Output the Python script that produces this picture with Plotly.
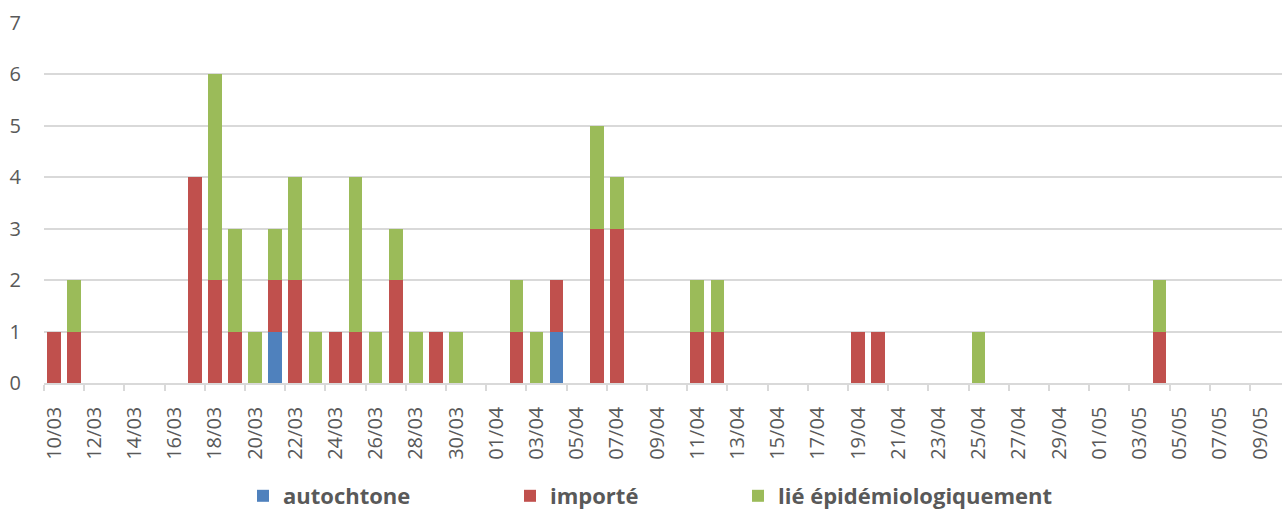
import plotly.graph_objects as go
import pandas as pd

dates = list(pd.date_range("2020-03-10", periods=62, freq="D").strftime("%d/%m"))

autochtone = [0,0,0,0,0,0,0,0,0,0,
              0,1,0,0,0,0,0,0,0,0,
              0,0,0,0,0,1,0,0,0,0,
              0,0,0,0,0,0,0,0,0,0,
              0,0,0,0,0,0,0,0,0,0,
              0,0,0,0,0,0,0,0,0,0,
              0,0]
importe = [1,1,0,0,0,0,0,4,2,1,
           0,1,2,0,1,1,0,2,0,1,
           0,0,0,1,0,1,0,3,3,0,
           0,0,1,1,0,0,0,0,0,0,
           1,1,0,0,0,0,0,0,0,0,
           0,0,0,0,0,1,0,0,0,0,
           0,0]
lie = [0,1,0,0,0,0,0,0,4,2,
       1,1,2,1,0,3,1,1,1,0,
       1,0,0,1,1,0,0,2,1,0,
       0,0,1,1,0,0,0,0,0,0,
       0,0,0,0,0,0,1,0,0,0,
       0,0,0,0,0,1,0,0,0,0,
       0,0]

series_names = ["autochtone", "importé", "lié épidémiologiquement"]
series_colors = ["#4F81BD", "#C0504D", "#9BBB59"]
y_ticks = [0, 1, 2, 3, 4, 5, 6, 7]

x = list(range(len(dates)))
label_idx = x[::2]
label_text = [dates[i] for i in label_idx]
boundary_ticks = [i - 0.5 for i in label_idx]

W, H = 1282, 511
L, R, T, B = 44, 0, 23, 128
plot_w = W - L - R
plot_h = H - T - B
cat_px = 20.1
x_end = plot_w / cat_px - 0.5

fig = go.Figure()
legend_names = ["legend", "legend2", "legend3"]
for vals, name, col, lg in zip([autochtone, importe, lie], series_names, series_colors, legend_names):
    fig.add_trace(go.Bar(x=x, y=vals, name=name, marker=dict(color=col, line=dict(width=0)),
                         legend=lg, showlegend=True))

grey = "#595959"
gridc = "#D9D9D9"
text_starts = [283, 550, 778]
leg = {}
for lg, ts in zip(legend_names, text_starts):
    leg[lg] = dict(x=(ts - 40 - L) / plot_w, y=(T + plot_h - 496) / plot_h, xanchor="left", yanchor="middle",
                   orientation="h", bgcolor="rgba(0,0,0,0)", visible=True,
                   font=dict(family="Open Sans", size=22, color=grey, weight="bold"))

fig.update_layout(
    width=W, height=H, margin=dict(l=L, r=R, t=T, b=B, pad=0, autoexpand=False),
    barmode="stack", bargap=0.32, showlegend=True,
    plot_bgcolor="white", paper_bgcolor="white",
    font=dict(family="Open Sans", size=20, color=grey),
    **leg,
    xaxis=dict(range=[-0.5, x_end], tickmode="array", tickvals=label_idx, ticktext=label_text,
               tickangle=-90, ticks="", showgrid=False, zeroline=False, automargin=False,
               showline=True, linecolor=gridc, linewidth=1.5,
               ticklabelstandoff=14,
               minor=dict(tickmode="array", tickvals=boundary_ticks, ticks="outside", ticklen=6,
                          tickcolor=gridc, tickwidth=1.5, showgrid=False),
               tickfont=dict(family="Open Sans", size=20, color=grey)),
    yaxis=dict(range=[0, 7], tickmode="array", tickvals=y_ticks, showgrid=True, gridcolor=gridc,
               gridwidth=1.5, zeroline=False, ticks="", ticklabelstandoff=22, automargin=False,
               tickfont=dict(family="Open Sans", size=20, color=grey)),
)

fig.write_html("out.html")
